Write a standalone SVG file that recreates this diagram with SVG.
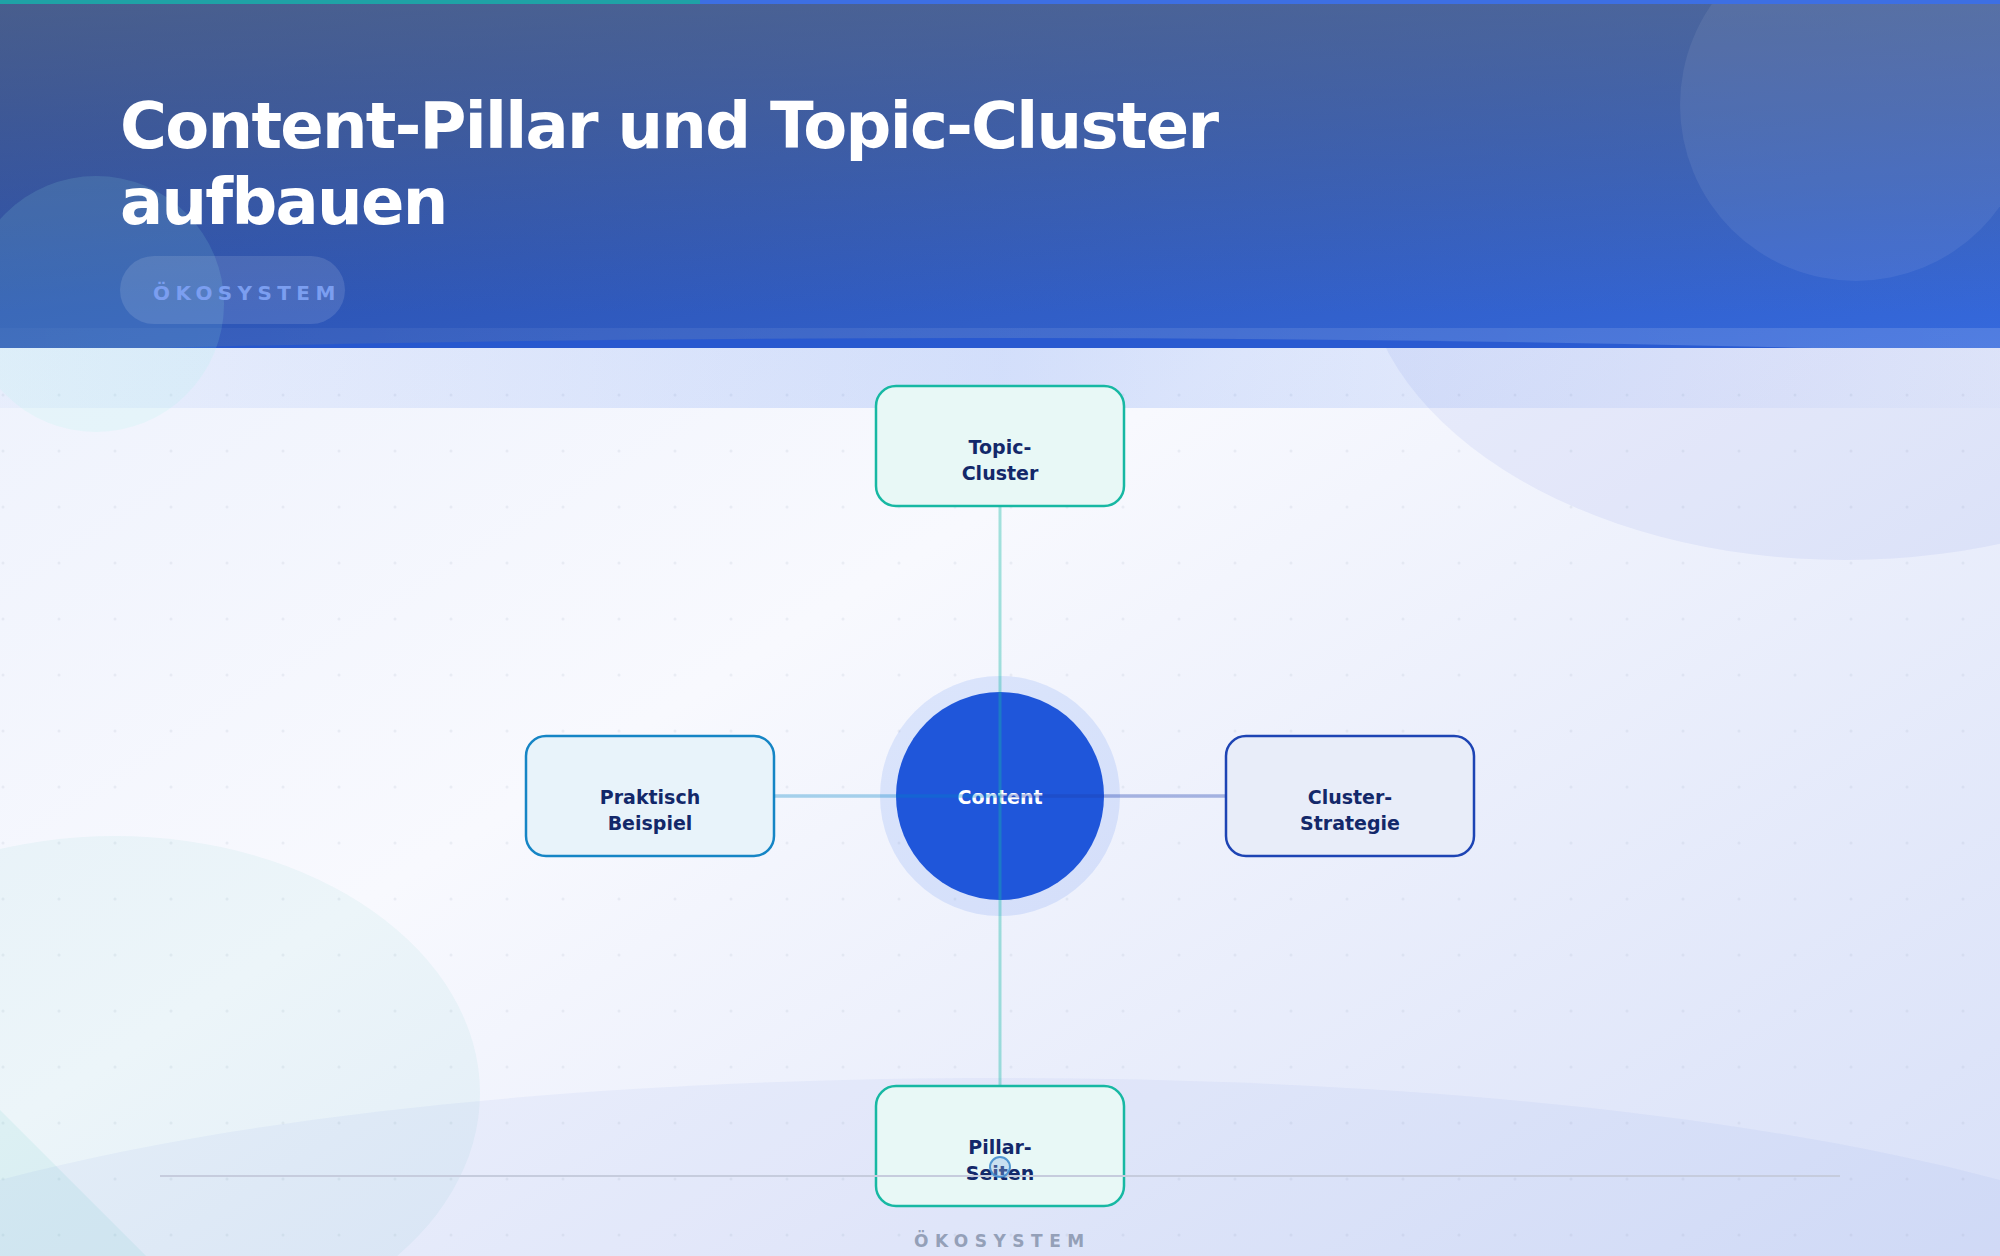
<svg xmlns="http://www.w3.org/2000/svg" width="2000" height="1256" viewBox="0 0 2000 1256">
  <style>
    .lbl { font-family: "DejaVu Sans", "Liberation Sans", sans-serif; font-weight: bold; font-size: 19px; fill: #13286a; text-anchor: middle; }
    .box { stroke-width: 2.5; }
    .title { font-family: "DejaVu Sans", "Liberation Sans", sans-serif; font-weight: bold; font-size: 64px; fill: #ffffff; letter-spacing: -1.7px; }
    .tag { font-family: "DejaVu Sans", "Liberation Sans", sans-serif; font-weight: bold; }
  </style>
  <defs>
    <linearGradient id="bodyBg" x1="0" y1="0" x2="1" y2="1">
      <stop offset="0" stop-color="#ebf0fc"/>
      <stop offset="0.45" stop-color="#f8f9fe"/>
      <stop offset="1" stop-color="#d8e0f8"/>
    </linearGradient>
    <linearGradient id="hdrBase" x1="0" y1="0" x2="1" y2="1">
      <stop offset="0" stop-color="#27438f"/>
      <stop offset="1" stop-color="#3569dd"/>
    </linearGradient>
    <linearGradient id="hdrOverlay" x1="0" y1="0" x2="0" y2="1">
      <stop offset="0" stop-color="#64748b" stop-opacity="0.55"/>
      <stop offset="0.9" stop-color="#64748b" stop-opacity="0"/>
    </linearGradient>
    <linearGradient id="hdrBand" x1="0" y1="0" x2="1" y2="0">
      <stop offset="0" stop-color="#ffffff" stop-opacity="0.03"/>
      <stop offset="1" stop-color="#ffffff" stop-opacity="0.14"/>
    </linearGradient>
    <linearGradient id="subBand" x1="0" y1="0" x2="1" y2="0">
      <stop offset="0" stop-color="#2563eb" stop-opacity="0.04"/>
      <stop offset="0.5" stop-color="#2563eb" stop-opacity="0.17"/>
      <stop offset="1" stop-color="#2563eb" stop-opacity="0.02"/>
    </linearGradient>
    <pattern id="dots" patternUnits="userSpaceOnUse" x="0" y="0" width="56" height="56">
      <circle cx="3" cy="3" r="1.5" fill="#94a3b8" fill-opacity="0.14"/>
    </pattern>
  </defs>

  <!-- background -->
  <rect x="0" y="0" width="2000" height="1256" fill="url(#bodyBg)"/>
  <rect x="0" y="348" width="2000" height="908" fill="url(#dots)"/>
  <ellipse cx="1845" cy="250" rx="484" ry="310" fill="#3b5bdb" fill-opacity="0.07"/>
  <rect x="0" y="348" width="2000" height="60" fill="url(#subBand)"/>
  <ellipse cx="115" cy="1093" rx="365" ry="257" fill="#14b8a6" fill-opacity="0.05"/>
  <polygon points="0,1110 146,1256 0,1256" fill="#14b8a6" fill-opacity="0.07"/>
  <path d="M0,1180 C300,1100 700,1078 1000,1078 C1300,1078 1700,1100 2000,1180 L2000,1256 L0,1256 Z" fill="#3b5bdb" fill-opacity="0.05"/>

  <!-- header -->
  <rect x="0" y="0" width="2000" height="348" fill="url(#hdrBase)"/>
  <rect x="0" y="0" width="2000" height="348" fill="url(#hdrOverlay)"/>
  <circle cx="1856" cy="105" r="176" fill="#ffffff" fill-opacity="0.07"/>
  <rect x="0" y="328" width="2000" height="20" fill="url(#hdrBand)"/>
  <path d="M150,348 Q980,328 1813,348 Z" fill="#2556d0" fill-opacity="0.85"/>
  <circle cx="96" cy="304" r="128" fill="#99f6e4" fill-opacity="0.13"/>
  <rect x="0" y="0" width="700" height="4" fill="#1fa2a6"/>
  <rect x="700" y="0" width="1300" height="4" fill="#3d6fe3"/>
  <text class="title" x="120" y="148">Content-Pillar und Topic-Cluster</text>
  <text class="title" x="120" y="224">aufbauen</text>
  <rect x="120" y="256" width="225" height="68" rx="34" fill="#ffffff" fill-opacity="0.12"/>
  <text class="tag" x="153" y="300" font-size="20" letter-spacing="5.4" fill="#7b9ef0">ÖKOSYSTEM</text>

  <!-- nodes -->
  <g id="node-topic-cluster">
    <rect class="box" x="876" y="386" width="248" height="120" rx="20" fill="#e8f8f6" stroke="#17b8a3"/>
    <text class="lbl" x="1000" y="453.5">Topic-</text>
    <text class="lbl" x="1000" y="479.5">Cluster</text>
  </g>
  <g id="node-praktisch-beispiel">
    <rect class="box" x="526" y="736" width="248" height="120" rx="20" fill="#e8f3fa" stroke="#1585c5"/>
    <text class="lbl" x="650" y="803.5">Praktisch</text>
    <text class="lbl" x="650" y="829.5">Beispiel</text>
  </g>
  <g id="node-cluster-strategie">
    <rect class="box" x="1226" y="736" width="248" height="120" rx="20" fill="#e8edf9" stroke="#1d44b4"/>
    <text class="lbl" x="1350" y="803.5">Cluster-</text>
    <text class="lbl" x="1350" y="829.5">Strategie</text>
  </g>
  <g id="node-pillar-seiten">
    <rect class="box" x="876" y="1086" width="248" height="120" rx="20" fill="#e8f8f6" stroke="#17b8a3"/>
    <text class="lbl" x="1000" y="1153.5">Pillar-</text>
    <text class="lbl" x="1000" y="1179.5">Seiten</text>
  </g>
  <g id="node-content">
    <circle cx="1000" cy="796" r="120" fill="#2563eb" fill-opacity="0.12"/>
    <circle cx="1000" cy="796" r="104" fill="#1f56da"/>
    <text class="lbl" x="1000" y="804" style="fill:#ffffff">Content</text>
  </g>

  <!-- connectors -->
  <g id="connectors" fill="none">
    <line x1="774" y1="796" x2="1000" y2="796" stroke="#0284c7" stroke-opacity="0.33" stroke-width="3.5"/>
    <line x1="1000" y1="796" x2="1226" y2="796" stroke="#1e40af" stroke-opacity="0.36" stroke-width="3.5"/>
    <line x1="1000" y1="506" x2="1000" y2="1086" stroke="#14b8a6" stroke-opacity="0.38" stroke-width="3"/>
  </g>

  <!-- footer -->
  <line x1="160" y1="1176" x2="1840" y2="1176" stroke="#c6ccdd" stroke-width="2"/>
  <circle cx="1000" cy="1167" r="10" fill="#93b4e6" fill-opacity="0.35" stroke="#2e7fc9" stroke-opacity="0.8" stroke-width="2"/>
  <text class="tag" x="914" y="1247" font-size="17" letter-spacing="6.5" fill="#94a0b8">ÖKOSYSTEM</text>
</svg>
